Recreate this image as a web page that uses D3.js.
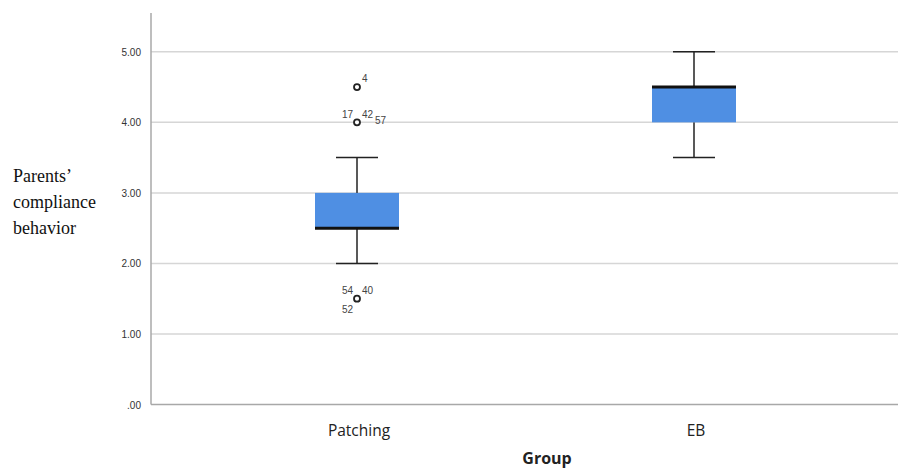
<!DOCTYPE html>
<html><head><meta charset="utf-8">
<script src="https://cdn.jsdelivr.net/npm/d3@7"></script>
<style>body{margin:0;background:#fff}</style>
</head><body>
<svg id="c" width="898" height="469"></svg>
<script>
const groups = ["Patching", "EB"];
const whiskerLow = [2.0, 3.5];
const q1 = [2.5, 4.0];
const median = [2.5, 4.5];
const q3 = [3.0, 4.5];
const whiskerHigh = [3.5, 5.0];
const outlierGroup = ["Patching", "Patching", "Patching"];
const outlierValue = [4.5, 4.0, 1.5];
const outlierLabels = [["4"], ["17", "42", "57"], ["54", "40", "52"]];
const yTicks = [0, 1, 2, 3, 4, 5];
const yTickLabels = [".00", "1.00", "2.00", "3.00", "4.00", "5.00"];

(function () {
const svg = d3.select("#c");
const mL = 151, mR = 898, mT = 13, mB = 404.5;
const y = d3.scaleLinear().domain([0, 5.55]).range([mB, mT]);
const x = d3.scalePoint().domain(groups).range([357, 694]);

// gridlines
svg.append("g").selectAll("line").data(yTicks.filter(d => d > 0)).join("line")
  .attr("x1", mL).attr("x2", mR).attr("y1", d => y(d)).attr("y2", d => y(d))
  .attr("stroke", "#d6d6d6").attr("stroke-width", 1.5);

// axes lines
svg.append("line").attr("x1", mL).attr("x2", mL).attr("y1", mT).attr("y2", mB)
  .attr("stroke", "#a8a8a8").attr("stroke-width", 1.5);
svg.append("line").attr("x1", mL).attr("x2", mR).attr("y1", mB).attr("y2", mB)
  .attr("stroke", "#a8a8a8").attr("stroke-width", 1.5);

// tick labels
svg.append("g").selectAll("text").data(yTicks).join("text")
  .attr("x", 141).attr("y", d => y(d) + 4).attr("text-anchor", "end")
  .attr("font-family", "Liberation Sans, Arial, sans-serif").attr("font-size", 10).attr("fill", "#333")
  .text((d, i) => yTickLabels[i]);

const boxW = 84, capW = 42;
groups.forEach((g, i) => {
  const cx = x(g);
  const G = svg.append("g");
  G.append("line").attr("x1", cx).attr("x2", cx).attr("y1", y(whiskerHigh[i])).attr("y2", y(q3[i]))
    .attr("stroke", "#222").attr("stroke-width", 1.5);
  G.append("line").attr("x1", cx).attr("x2", cx).attr("y1", y(q1[i])).attr("y2", y(whiskerLow[i]))
    .attr("stroke", "#222").attr("stroke-width", 1.5);
  G.append("line").attr("x1", cx - capW / 2).attr("x2", cx + capW / 2).attr("y1", y(whiskerHigh[i])).attr("y2", y(whiskerHigh[i]))
    .attr("stroke", "#222").attr("stroke-width", 1.5);
  G.append("line").attr("x1", cx - capW / 2).attr("x2", cx + capW / 2).attr("y1", y(whiskerLow[i])).attr("y2", y(whiskerLow[i]))
    .attr("stroke", "#222").attr("stroke-width", 1.5);
  G.append("rect").attr("x", cx - boxW / 2).attr("width", boxW)
    .attr("y", y(q3[i])).attr("height", y(q1[i]) - y(q3[i])).attr("fill", "#4f8fe3");
  G.append("line").attr("x1", cx - boxW / 2).attr("x2", cx + boxW / 2).attr("y1", y(median[i])).attr("y2", y(median[i]))
    .attr("stroke", "#111").attr("stroke-width", 3);
});

// outliers
const labelOffsets = {
  "4": [5, -8], "17": [-15, -7], "42": [5, -7], "57": [18, -1],
  "54": [-15, -8], "40": [5, -8], "52": [-15, 11]
};
outlierValue.forEach((v, i) => {
  const cx = x(outlierGroup[i]), cy = y(v);
  svg.append("circle").attr("cx", cx).attr("cy", cy).attr("r", 3)
    .attr("fill", "#fff").attr("stroke", "#222").attr("stroke-width", 1.8);
  outlierLabels[i].forEach(l => {
    const o = labelOffsets[l];
    svg.append("text").attr("x", cx + o[0]).attr("y", cy + o[1] + 3)
      .attr("font-family", "Liberation Sans, Arial, sans-serif").attr("font-size", 10).attr("fill", "#444")
      .text(l);
  });
});

// category labels
svg.append("g").selectAll("text").data(groups).join("text")
  .attr("x", d => x(d) + 2).attr("y", 436).attr("text-anchor", "middle")
  .attr("font-family", "Open Sans, sans-serif").attr("font-size", 15.5).attr("fill", "#222")
  .text(d => d);

svg.append("text").attr("x", 547).attr("y", 464).attr("text-anchor", "middle")
  .attr("font-family", "Open Sans, sans-serif").attr("font-size", 16).attr("font-weight", "bold").attr("fill", "#222")
  .text("Group");

// y title
["Parents’", "compliance", "behavior"].forEach((t, i) => {
  svg.append("text").attr("x", 13).attr("y", 182 + i * 26)
    .attr("font-family", "Liberation Serif, Times New Roman, serif").attr("font-size", 18).attr("fill", "#111")
    .text(t);
});
})();
</script>
</body></html>
